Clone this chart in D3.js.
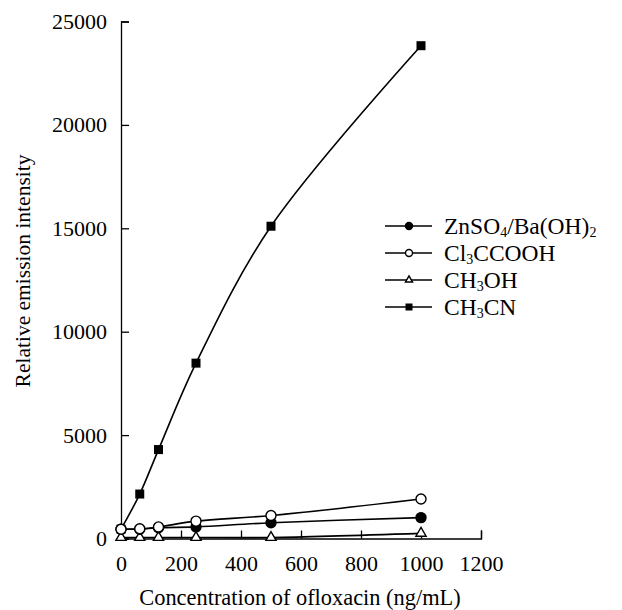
<!DOCTYPE html>
<html>
<head>
<meta charset="utf-8">
<script src="https://cdn.jsdelivr.net/npm/d3@7"></script>
<style>
  body { margin: 0; background: #fff; }
  text { font-family: "Liberation Serif", "Times New Roman", serif; fill: #000; }
</style>
</head>
<body>
<svg width="622" height="610"></svg>
<script>
const concentrations = [0, 62.5, 125, 250, 500, 1000];
const znso4 = [450, 450, 520, 560, 760, 1010];
const cl3ccooh = [450, 470, 560, 840, 1110, 1910];
const ch3oh = [50, 50, 50, 50, 50, 250];
const ch3cn = [450, 2150, 4300, 8480, 15100, 23830];

const xTicks = [0, 200, 400, 600, 800, 1000, 1200];
const yTicks = [0, 5000, 10000, 15000, 20000, 25000];

// legend labels as [text, subscript] pieces
const series = [
  {name: [['ZnSO', ''], ['4', 'sub'], ['/Ba(OH)', ''], ['2', 'sub']], values: znso4, marker: 'circleFilled'},
  {name: [['Cl', ''], ['3', 'sub'], ['CCOOH', '']], values: cl3ccooh, marker: 'circleOpen'},
  {name: [['CH', ''], ['3', 'sub'], ['OH', '']], values: ch3oh, marker: 'triangle'},
  {name: [['CH', ''], ['3', 'sub'], ['CN', '']], values: ch3cn, marker: 'square'}
];

const serif = '"Liberation Serif", "Times New Roman", serif';
const svg = d3.select('svg');

const x = d3.scaleLinear().domain([0, 1200]).range([121, 481]);
const y = d3.scaleLinear().domain([0, 25000]).range([538.5, 21.5]);

// axes, ticks pointing inward
const xAxis = svg.append('g')
  .attr('transform', `translate(0,${y(0)})`)
  .call(d3.axisBottom(x).tickValues(xTicks).tickSize(-8).tickPadding(17).tickFormat(d3.format('d')));

const yAxis = svg.append('g')
  .attr('transform', `translate(${x(0)},0)`)
  .call(d3.axisLeft(y).tickValues(yTicks).tickSize(-8).tickPadding(14).tickFormat(d3.format('d')));

[xAxis, yAxis].forEach(g => {
  g.attr('font-family', serif).attr('font-size', 22);
  g.select('.domain').attr('stroke', '#000').attr('stroke-width', 1.3);
  g.selectAll('.tick line').attr('stroke', '#000').attr('stroke-width', 1.3);
  g.selectAll('.tick text').attr('fill', '#000');
});

svg.append('text')
  .attr('x', 300)
  .attr('y', 605)
  .attr('text-anchor', 'middle')
  .style('font-size', '22.4px')
  .text('Concentration of ofloxacin (ng/mL)');

svg.append('text')
  .attr('transform', 'translate(30,271) rotate(-90)')
  .attr('text-anchor', 'middle')
  .style('font-size', '21.5px')
  .text('Relative emission intensity');

const line = d3.line()
  .x((d, i) => x(concentrations[i]))
  .y(d => y(d))
  .curve(d3.curveCatmullRom.alpha(0.5));

function drawMarker(g, type, cx, cy, s) {
  if (type === 'circleFilled' || type === 'circleOpen') {
    g.append('circle')
      .attr('cx', cx).attr('cy', cy).attr('r', s * 0.5)
      .attr('fill', type === 'circleFilled' ? '#000' : '#fff')
      .attr('stroke', '#000').attr('stroke-width', 1.4);
  } else if (type === 'square') {
    g.append('rect')
      .attr('x', cx - s / 2).attr('y', cy - s / 2)
      .attr('width', s).attr('height', s)
      .attr('fill', '#000');
  } else {
    g.append('path')
      .attr('d', d3.symbol(d3.symbolTriangle, s * s * 0.45)())
      .attr('transform', `translate(${cx},${cy})`)
      .attr('fill', '#fff')
      .attr('stroke', '#000').attr('stroke-width', 1.4);
  }
}

const plot = svg.append('g');

series.forEach(s => {
  plot.append('path')
    .datum(s.values)
    .attr('d', line)
    .attr('fill', 'none')
    .attr('stroke', '#000')
    .attr('stroke-width', 1.6);
});

// markers drawn after all lines
[2, 3, 0, 1].forEach(k => {
  const s = series[k];
  s.values.forEach((v, i) => drawMarker(plot, s.marker, x(concentrations[i]), y(v), s.marker === 'square' ? 9 : 10));
});

// legend
const legend = svg.append('g');
const legendY = d3.scalePoint().domain(d3.range(series.length)).range([226, 307]);

series.forEach((s, k) => {
  const ly = legendY(k);
  legend.append('line')
    .attr('x1', 385).attr('x2', 432)
    .attr('y1', ly).attr('y2', ly)
    .attr('stroke', '#000').attr('stroke-width', 1.6);
  drawMarker(legend, s.marker, 409, ly, 7);
  const t = legend.append('text')
    .attr('x', 444)
    .attr('y', ly + 8)
    .style('font-size', '23.5px');
  s.name.forEach((p, i) => {
    const ts = t.append('tspan').text(p[0]);
    if (p[1] === 'sub') ts.attr('dy', 3).style('font-size', '14px');
    else if (i > 0) ts.attr('dy', -3);
  });
});
</script>
</body>
</html>
